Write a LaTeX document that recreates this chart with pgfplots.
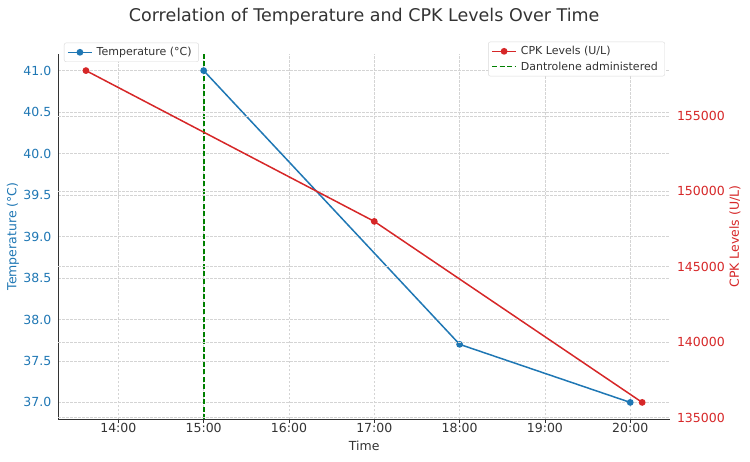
\documentclass[border=0pt]{standalone}
\usepackage{fontspec}
\setmainfont{DejaVu Sans}
\usepackage{pgfplots}
\pgfplotsset{compat=1.18}
\definecolor{tblue}{RGB}{31,119,180}
\definecolor{tred}{RGB}{214,39,40}
\definecolor{mygreen}{RGB}{0,128,0}
\definecolor{txt}{RGB}{51,51,51}
\definecolor{gridc}{RGB}{212,212,212}
\pgfplotsset{
  common/.style={
    at={(58.3pt,42pt)}, anchor=south west,
    width=611.7pt, height=365pt, scale only axis,
    xmin=13.296, xmax=20.466,
    major grid style={gridc, dash pattern=on 2.5pt off 1.5pt, line width=0.5pt},
    tick align=outside,
    major tick length=3.5pt,
    /pgf/number format/assume math mode=true,
    ticklabel style={font=\fontsize{12.5}{15}\selectfont},
    label style={font=\fontsize{12.5}{15}\selectfont},
    legend style={draw=gray!30, fill=white, rounded corners=2pt,
      font=\fontsize{11}{13}\selectfont, text=txt,
      inner xsep=3pt, inner ysep=2.5pt, row sep=1.5pt,
      nodes={inner xsep=4pt}},
    legend cell align=left,
    legend image code/.code={
      \draw[mark repeat=2,mark phase=2] plot coordinates {(0pt,0pt)(12pt,0pt)(24pt,0pt)};
    },
  }
}
\begin{document}
\begin{tikzpicture}[x=1pt,y=1pt]
\useasboundingbox (0,0) rectangle (750,461);
\node[anchor=base, text=txt, font=\fontsize{17.5}{20}\selectfont, inner sep=0pt] at (364.2,439.3) {Correlation of Temperature and CPK Levels Over Time};

\begin{axis}[common,
  axis x line*=bottom, axis y line*=left,
  axis line style={-, draw=txt, line width=1pt},
  xtick pos=bottom, ytick pos=left,
  ymin=36.8, ymax=41.2,
  xmajorgrids, ymajorgrids,
  xtick={14,15,16,17,18,19,20},
  xticklabels={14:00,15:00,16:00,17:00,18:00,19:00,20:00},
  xticklabel style={text=txt},
  xticklabel shift=-3pt,
  xtick style={draw=txt, line width=0.8pt},
  ytick={37,37.5,38,38.5,39,39.5,40,40.5,41},
  yticklabels={37.0,37.5,38.0,38.5,39.0,39.5,40.0,40.5,41.0},
  yticklabel style={text=tblue},
  ytick style={draw=none},
  xlabel={Time}, ylabel={Temperature (°C)},
  xlabel style={text=txt, at={(axis description cs:0.5,0)}, anchor=base, yshift=-31pt},
  ylabel style={text=tblue, at={(axis description cs:-0.074,0.5)}, anchor=center},
  legend style={at={(0.0093,1.031)}, anchor=north west},
]
\addplot[tblue, line width=1.5pt, mark=*, mark size=2.6pt, mark options={solid}] coordinates {(15,41.0) (18,37.7) (20,37.0)};
\addlegendentry{Temperature (°C)}
\addplot[color=mygreen, line width=2pt, dash pattern=on 5pt off 2.5pt, forget plot] coordinates {(15,36.8) (15,41.2)};
\end{axis}

\begin{axis}[common,
  hide x axis,
  ytick pos=right, yticklabel pos=right,
  axis line style={draw=none},
  ymin=134900, ymax=159100,
  ymajorgrids,
  scaled y ticks=false,
  ytick={135000,140000,145000,150000,155000},
  yticklabels={135000,140000,145000,150000,155000},
  yticklabel style={text=tred},
  ytick style={draw=none},
  ylabel={CPK Levels (U/L)},
  ylabel style={text=tred, at={(axis description cs:1.106,0.5)}, anchor=center, rotate=0},
  legend style={at={(0.9918,1.0337)}, anchor=north east},
]
\addplot[color=tred, line width=1.5pt, mark=*, mark size=2.6pt, mark options={solid}] coordinates {(13.62,158000) (17,148000) (20.14,136000)};
\addlegendentry{CPK Levels (U/L)}
\addlegendimage{draw=mygreen, line width=1.5pt, dash pattern=on 5pt off 2.5pt}
\addlegendentry{Dantrolene administered}
\end{axis}
\end{tikzpicture}
\end{document}
